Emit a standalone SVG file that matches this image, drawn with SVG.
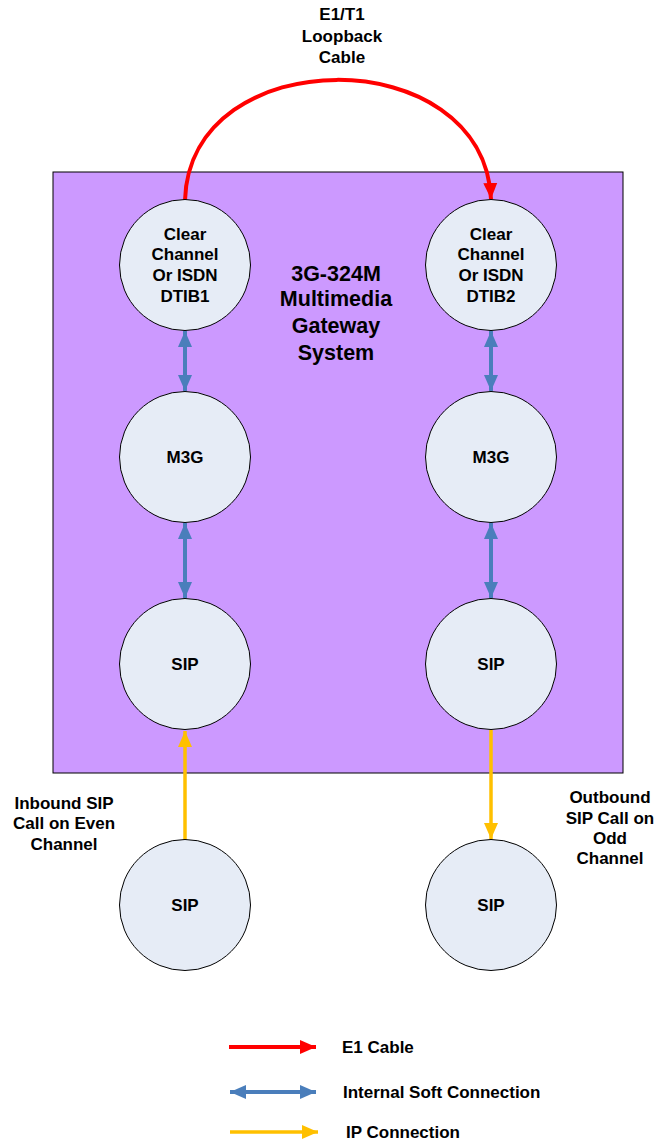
<svg xmlns="http://www.w3.org/2000/svg" width="656" height="1142" viewBox="0 0 656 1142">
<style>
text{font-family:"Liberation Sans",Arial,sans-serif;font-weight:bold;fill:#000;text-anchor:middle}
.t14{font-size:17px}
.t18{font-size:21.5px}
.node{fill:#E6ECF6;stroke:#000;stroke-width:1}
.red{stroke:#FF0000;stroke-width:4;fill:none}
.blue{stroke:#4A7EBB;stroke-width:4;fill:none}
.yel{stroke:#FFC000;stroke-width:3.5;fill:none}
</style>
<defs>
<marker id="mr" markerUnits="userSpaceOnUse" markerWidth="16" markerHeight="16" viewBox="0 0 16 16" refX="16" refY="8" orient="auto"><path d="M0,1 L16,8 L0,15 Z" fill="#FF0000"/></marker>
<marker id="mb" markerUnits="userSpaceOnUse" markerWidth="16" markerHeight="16" viewBox="0 0 16 16" refX="16" refY="8" orient="auto"><path d="M0,1 L16,8 L0,15 Z" fill="#4A7EBB"/></marker>
<marker id="mbs" markerUnits="userSpaceOnUse" markerWidth="16" markerHeight="16" viewBox="0 0 16 16" refX="0" refY="8" orient="auto"><path d="M16,1 L0,8 L16,15 Z" fill="#4A7EBB"/></marker>
<marker id="my" markerUnits="userSpaceOnUse" markerWidth="16" markerHeight="16" viewBox="0 0 16 16" refX="16" refY="8" orient="auto"><path d="M0,1 L16,8 L0,15 Z" fill="#FFC000"/></marker>
</defs>
<g id="system">
<rect x="53" y="172" width="570" height="601" fill="#CC99FF" stroke="#000" stroke-width="1"/>
<text class="t18" x="336" y="281">3G-324M</text>
<text class="t18" x="336" y="306">Multimedia</text>
<text class="t18" x="336" y="333">Gateway</text>
<text class="t18" x="336" y="360">System</text>
</g>
<g id="loopback-label">
<text class="t14" x="342" y="20">E1/T1</text>
<text class="t14" x="342" y="42">Loopback</text>
<text class="t14" x="342" y="63">Cable</text>
</g>
<g id="connectors">
<path class="red" d="M185,200 C190,40 484,40 491,199" marker-end="url(#mr)"/>
<line class="blue" x1="185" y1="331" x2="185" y2="391" marker-start="url(#mbs)" marker-end="url(#mb)"/>
<line class="blue" x1="491" y1="331" x2="491" y2="391" marker-start="url(#mbs)" marker-end="url(#mb)"/>
<line class="blue" x1="185" y1="523" x2="185" y2="598" marker-start="url(#mbs)" marker-end="url(#mb)"/>
<line class="blue" x1="491" y1="523" x2="491" y2="598" marker-start="url(#mbs)" marker-end="url(#mb)"/>
<line class="yel" x1="185" y1="840" x2="185" y2="731" marker-end="url(#my)"/>
<line class="yel" x1="491" y1="730" x2="491" y2="839" marker-end="url(#my)"/>
</g>
<g id="dtib1">
<circle class="node" cx="185" cy="265" r="65.5"/>
<text class="t14" x="185" y="240">Clear</text>
<text class="t14" x="185" y="260">Channel</text>
<text class="t14" x="185" y="281">Or ISDN</text>
<text class="t14" x="185" y="302">DTIB1</text>
</g>
<g id="dtib2">
<circle class="node" cx="491" cy="265" r="65.5"/>
<text class="t14" x="491" y="240">Clear</text>
<text class="t14" x="491" y="260">Channel</text>
<text class="t14" x="491" y="281">Or ISDN</text>
<text class="t14" x="491" y="302">DTIB2</text>
</g>
<g id="m3g1">
<circle class="node" cx="185" cy="457" r="65.5"/>
<text class="t14" x="185" y="463">M3G</text>
</g>
<g id="m3g2">
<circle class="node" cx="491" cy="457" r="65.5"/>
<text class="t14" x="491" y="463">M3G</text>
</g>
<g id="sip1">
<circle class="node" cx="185" cy="664" r="65.5"/>
<text class="t14" x="185" y="670">SIP</text>
</g>
<g id="sip2">
<circle class="node" cx="491" cy="664" r="65.5"/>
<text class="t14" x="491" y="670">SIP</text>
</g>
<g id="sip-ext1">
<circle class="node" cx="185" cy="905" r="65.5"/>
<text class="t14" x="185" y="911">SIP</text>
</g>
<g id="sip-ext2">
<circle class="node" cx="491" cy="905" r="65.5"/>
<text class="t14" x="491" y="911">SIP</text>
</g>
<g id="inbound-label">
<text class="t14" x="64" y="809">Inbound SIP</text>
<text class="t14" x="64" y="829">Call on Even</text>
<text class="t14" x="64" y="850">Channel</text>
</g>
<g id="outbound-label">
<text class="t14" x="610" y="803">Outbound</text>
<text class="t14" x="610" y="824">SIP Call on</text>
<text class="t14" x="610" y="844">Odd</text>
<text class="t14" x="610" y="864">Channel</text>
</g>
<g id="legend">
<line class="red" x1="229" y1="1047" x2="316" y2="1047" marker-end="url(#mr)"/>
<text class="t14" x="342" y="1053" style="text-anchor:start">E1 Cable</text>
<line class="blue" x1="230" y1="1092" x2="316" y2="1092" marker-start="url(#mbs)" marker-end="url(#mb)"/>
<text class="t14" x="343" y="1098" style="text-anchor:start">Internal Soft Connection</text>
<line class="yel" x1="230" y1="1132" x2="318" y2="1132" marker-end="url(#my)"/>
<text class="t14" x="346" y="1138" style="text-anchor:start">IP Connection</text>
</g>
</svg>
